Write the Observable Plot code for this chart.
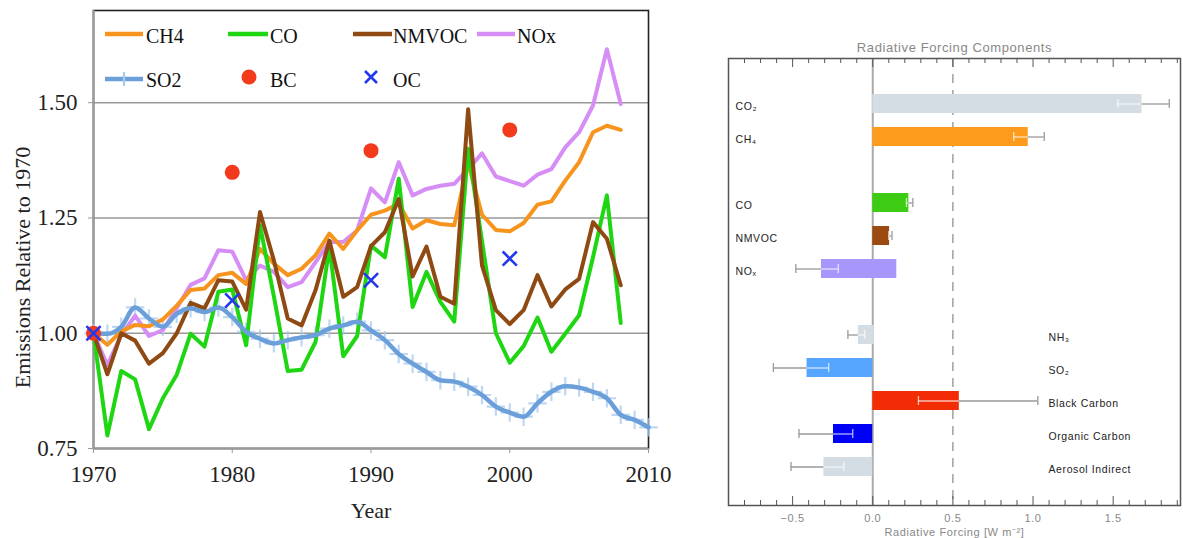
<!DOCTYPE html>
<html><head><meta charset="utf-8">
<script src="https://cdn.jsdelivr.net/npm/d3@7"></script>
<script src="https://cdn.jsdelivr.net/npm/@observablehq/plot@0.6"></script>
<style>
body{margin:0;background:#fff;}
#wrap{position:relative;width:1183px;height:538px;overflow:hidden;background:#fff;}
#left{position:absolute;left:0;top:0;}
#right{position:absolute;left:700px;top:0;}
#legend{position:absolute;left:0;top:0;}
#legend text{font-family:"Liberation Serif","Times New Roman",serif;font-size:20px;fill:#111;}
</style></head><body>
<div id="wrap"><div id="left"></div><div id="right"></div><svg id="legend" width="680" height="110"></svg></div>
<script>
// ---------- Left panel data ----------
const years = [1970,1971,1972,1973,1974,1975,1976,1977,1978,1979,1980,1981,1982,1983,1984,1985,1986,1987,1988,1989,1990,1991,1992,1993,1994,1995,1996,1997,1998,1999,2000,2001,2002,2003,2004,2005,2006,2007,2008];
const ch4 = [1.00,0.975,1.004,1.018,1.015,1.03,1.06,1.094,1.097,1.126,1.131,1.107,1.183,1.151,1.126,1.14,1.169,1.216,1.183,1.223,1.257,1.266,1.281,1.227,1.245,1.237,1.234,1.37,1.257,1.224,1.221,1.239,1.279,1.286,1.331,1.371,1.436,1.45,1.441];
const co = [1.00,0.778,0.918,0.90,0.792,0.859,0.91,0.999,0.971,1.09,1.095,0.974,1.234,1.08,0.918,0.921,0.981,1.187,0.95,0.994,1.19,1.165,1.335,1.057,1.133,1.068,1.025,1.40,1.20,1.0,0.936,0.972,1.034,0.96,0.999,1.039,1.165,1.299,1.022];
const nmvoc = [1.00,0.911,1.0,0.984,0.934,0.957,1.0,1.066,1.054,1.115,1.112,1.051,1.263,1.158,1.032,1.017,1.093,1.201,1.079,1.10,1.189,1.219,1.291,1.123,1.188,1.079,1.064,1.486,1.147,1.05,1.02,1.05,1.126,1.058,1.095,1.118,1.241,1.205,1.104];
const nox = [1.00,0.931,0.996,1.038,0.994,1.007,1.054,1.105,1.119,1.18,1.177,1.115,1.147,1.133,1.10,1.111,1.154,1.198,1.198,1.223,1.314,1.284,1.371,1.299,1.313,1.32,1.324,1.356,1.39,1.34,1.33,1.32,1.344,1.356,1.403,1.436,1.494,1.616,1.497];
const so2Years = [1970,1971,1972,1973,1974,1975,1976,1977,1978,1979,1980,1981,1982,1983,1984,1985,1986,1987,1988,1989,1990,1991,1992,1993,1994,1995,1996,1997,1998,1999,2000,2001,2002,2003,2004,2005,2006,2007,2008,2009,2010];
const so2 = [1.0,0.999,1.014,1.056,1.032,1.014,1.042,1.054,1.046,1.056,1.035,1.003,0.988,0.978,0.985,0.991,0.996,1.01,1.017,1.025,1.006,0.985,0.955,0.934,0.916,0.898,0.895,0.884,0.866,0.841,0.828,0.819,0.848,0.873,0.885,0.882,0.873,0.859,0.823,0.812,0.796];
const pointYears = [1970,1980,1990,2000];
const bc = [1.0,1.349,1.396,1.441];
const oc = [1.0,1.071,1.115,1.162];
const yTicks = [0.75,1.00,1.25,1.50];
const xTicks = [1970,1980,1990,2000,2010];

const seriesColors = {CH4:"#f7941e", CO:"#1fd612", NMVOC:"#8e4a12", NOx:"#d68df5", SO2:"#6b9fd9", SO2mark:"#a9c9ee", BC:"#f23a1d", OC:"#2438ee"};

const toRows = (xs, ys) => xs.map((x,i)=>({x, y: ys[i]}));
const serif = "'Liberation Serif','Times New Roman',serif";

const left = Plot.plot({
  width: 680, height: 538,
  marginLeft: 93, marginRight: 32, marginTop: 10, marginBottom: 90,
  x: {domain: [1970, 2010]},
  y: {domain: [0.75, 1.70]},
  style: {fontFamily: serif, color: "#222", background: "#fff", overflow: "visible"},
  marks: [
    Plot.ruleY([1.00,1.25,1.50], {stroke: "#999", strokeWidth: 1.6}),
    Plot.frame({stroke: "#222", strokeWidth: 1.6}),
    Plot.ruleY([0.75], {stroke: "#999", strokeWidth: 2}),
    Plot.ruleX([1970], {stroke: "#999", strokeWidth: 2}),
    Plot.axisY({ticks: yTicks, tickFormat: d3.format(".2f"), tickSize: 5, tickPadding: 11, fontSize: 23, stroke: "#999", label: null}),
    Plot.axisX({ticks: xTicks, tickFormat: d3.format("d"), tickSize: 5, tickPadding: 12, fontSize: 23, stroke: "#999", label: null}),
    Plot.text(["Year"], {frameAnchor: "bottom", lineAnchor: "middle", dy: 62, fontSize: 22, fill: "#222"}),
    Plot.text(["Emissions Relative to 1970"], {frameAnchor: "left", textAnchor: "middle", lineAnchor: "middle", rotate: -90, dx: -71, dy: 38, fontSize: 22, fill: "#222"}),
    Plot.dot(toRows(so2Years, so2), {x: "x", y: "y", symbol: "plus", r: 6, stroke: seriesColors.SO2mark, strokeWidth: 2.2, strokeOpacity: 0.75, clip: false}),
    Plot.line(toRows(years, nox), {x: "x", y: "y", stroke: seriesColors.NOx, strokeWidth: 4}),
    Plot.line(toRows(years, ch4), {x: "x", y: "y", stroke: seriesColors.CH4, strokeWidth: 4}),
    Plot.line(toRows(years, co), {x: "x", y: "y", stroke: seriesColors.CO, strokeWidth: 4}),
    Plot.line(toRows(years, nmvoc), {x: "x", y: "y", stroke: seriesColors.NMVOC, strokeWidth: 4}),
    Plot.line(toRows(so2Years, so2), {x: "x", y: "y", stroke: seriesColors.SO2, strokeWidth: 4.5, curve: "monotone-x"}),
    Plot.dot(toRows(pointYears, bc), {x: "x", y: "y", r: 7.5, fill: seriesColors.BC}),
    Plot.dot(toRows(pointYears, oc), {x: "x", y: "y", symbol: "times", r: 6.5, stroke: seriesColors.OC, strokeWidth: 2.6})
  ]
});
document.getElementById("left").appendChild(left);

// ---------- Legend (overlay) ----------
const lg = d3.select("#legend");
const legendLines = [
  {name: "CH4", x1: 105, x2: 143, y: 34, tx: 146, ty: 43},
  {name: "CO", x1: 228, x2: 268, y: 34, tx: 270, ty: 43},
  {name: "NMVOC", x1: 353, x2: 392, y: 34, tx: 393, ty: 43},
  {name: "NOx", x1: 477, x2: 515, y: 34, tx: 517, ty: 43},
  {name: "SO2", x1: 105, x2: 143, y: 79, tx: 146, ty: 87}
];
for (const l of legendLines) {
  lg.append("line").attr("x1", l.x1).attr("x2", l.x2).attr("y1", l.y).attr("y2", l.y)
    .attr("stroke", seriesColors[l.name]).attr("stroke-width", 4.5);
  lg.append("text").attr("x", l.tx).attr("y", l.ty).text(l.name);
}
lg.append("line").attr("x1",124).attr("x2",124).attr("y1",72).attr("y2",86).attr("stroke",seriesColors.SO2mark).attr("stroke-width",2.2);
lg.append("circle").attr("cx",249).attr("cy",77).attr("r",7.5).attr("fill",seriesColors.BC);
lg.append("text").attr("x",270).attr("y",87).text("BC");
lg.append("path").attr("d","M365,71L377,83M377,71L365,83").attr("stroke",seriesColors.OC).attr("stroke-width",2.6);
lg.append("text").attr("x",393).attr("y",87).text("OC");

// ---------- Right panel data ----------
const rfSlots = ["CO₂","CH₄"," ","CO","NMVOC","NOₓ","  ","NH₃","SO₂","Black Carbon","Organic Carbon","Aerosol Indirect"];
const rfCategories = ["CO₂","CH₄","CO","NMVOC","NOₓ","NH₃","SO₂","Black Carbon","Organic Carbon","Aerosol Indirect"];
const rfBarLow  = [0, 0, 0, 0, -0.32, -0.09, -0.41, 0, -0.245, -0.305];
const rfBarHigh = [1.68, 0.97, 0.225, 0.105, 0.15, 0.01, 0, 0.54, 0, 0];
const rfErrLow  = [1.53, 0.88, 0.21, 0.10, -0.48, -0.155, -0.62, 0.285, -0.46, -0.51];
const rfErrHigh = [1.85, 1.07, 0.25, 0.12, -0.215, -0.05, -0.275, 1.03, -0.125, -0.18];
const rfColors  = ["#d4dde3","#fd9b1d","#3ecb14","#9b4a12","#a797fd","#d4dde3","#56a6ff","#f22d05","#0000f5","#d4dde3"];
const rfLabelSide = ["left","left","left","left","left","right","right","right","right","right"];
const rfMajorTicks = [-0.5, 0, 0.5, 1.0, 1.5];
const rfMinorTicks = [-0.8,-0.7,-0.6,-0.4,-0.3,-0.2,-0.1,0.1,0.2,0.3,0.4,0.6,0.7,0.8,0.9,1.1,1.2,1.3,1.4,1.6,1.7,1.8,1.9];

const rf = rfCategories.map((cat,i)=>({cat, lo: rfBarLow[i], hi: rfBarHigh[i], elo: rfErrLow[i], ehi: rfErrHigh[i], color: rfColors[i], side: rfLabelSide[i]}));
const gray = "#9a9a9a", light = "rgba(255,255,255,0.7)";
const segs = [];
const caps = [];
for (const d of rf) {
  const a = Math.max(d.elo, d.lo), b = Math.min(d.ehi, d.hi);
  if (b > a) segs.push({cat: d.cat, x1: a, x2: b, s: light});
  if (d.elo < d.lo) segs.push({cat: d.cat, x1: d.elo, x2: Math.min(d.ehi, d.lo), s: gray});
  if (d.ehi > d.hi) segs.push({cat: d.cat, x1: Math.max(d.elo, d.hi), x2: d.ehi, s: gray});
  for (const v of [d.elo, d.ehi]) caps.push({cat: d.cat, x: v, s: (v > d.lo && v < d.hi) ? light : gray});
}
const frameH = 538 - 58 - 33;
const sans = "'Liberation Sans',Arial,sans-serif";

const right = Plot.plot({
  width: 483, height: 538,
  marginLeft: 28, marginRight: 3, marginTop: 58, marginBottom: 33,
  x: {domain: [-0.9, 1.92]},
  y: {type: "band", domain: rfSlots, range: [75, 495], padding: 0.41, axis: null},
  color: {type: "identity"},
  style: {fontFamily: sans, background: "#fff", letterSpacing: "0.6px", overflow: "visible"},
  marks: [
    Plot.ruleX([0], {stroke: "#aaa", strokeWidth: 2}),
    Plot.ruleX([0.5], {stroke: "#888", strokeWidth: 1.2, strokeDasharray: "9,7"}),
    Plot.ruleX(rfMinorTicks, {insetTop: frameH - 5, stroke: "#555"}),
    Plot.ruleX(rfMinorTicks, {insetBottom: frameH - 5, stroke: "#555"}),
    Plot.ruleX(rfMajorTicks, {insetTop: frameH - 9, stroke: "#555"}),
    Plot.ruleX(rfMajorTicks, {insetBottom: frameH - 9, stroke: "#555"}),
    Plot.barX(rf, {x1: "lo", x2: "hi", y: "cat", fill: "color"}),
    Plot.ruleY(segs, {y: "cat", x1: "x1", x2: "x2", stroke: "s", strokeWidth: 1.3}),
    Plot.tickX(caps, {x: "x", y: "cat", stroke: "s", strokeWidth: 1.3, insetTop: 5, insetBottom: 5}),
    Plot.frame({stroke: "#555", strokeWidth: 1.5}),
    Plot.text(rf.filter(d => d.side === "left"), {y: "cat", text: "cat", frameAnchor: "left", dx: 7, dy: 3, textAnchor: "start", fontSize: 10.5, fill: "#222"}),
    Plot.text(rf.filter(d => d.side === "right"), {y: "cat", text: "cat", frameAnchor: "left", dx: 320, dy: 3, textAnchor: "start", fontSize: 10.5, fill: "#222"}),
    Plot.text(["Radiative Forcing Components"], {frameAnchor: "top", lineAnchor: "middle", dy: -11, fontSize: 13, fill: "#888"}),
    Plot.axisX({ticks: rfMajorTicks, tickFormat: d3.format(".1f"), tickSize: 0, tickPadding: 9, fontSize: 11, fill: "#888", label: null}),
    Plot.text(["Radiative Forcing [W m⁻²]"], {frameAnchor: "bottom", lineAnchor: "middle", dy: 27, fontSize: 11, fill: "#888"})
  ]
});
document.getElementById("right").appendChild(right);
</script>
</body></html>
